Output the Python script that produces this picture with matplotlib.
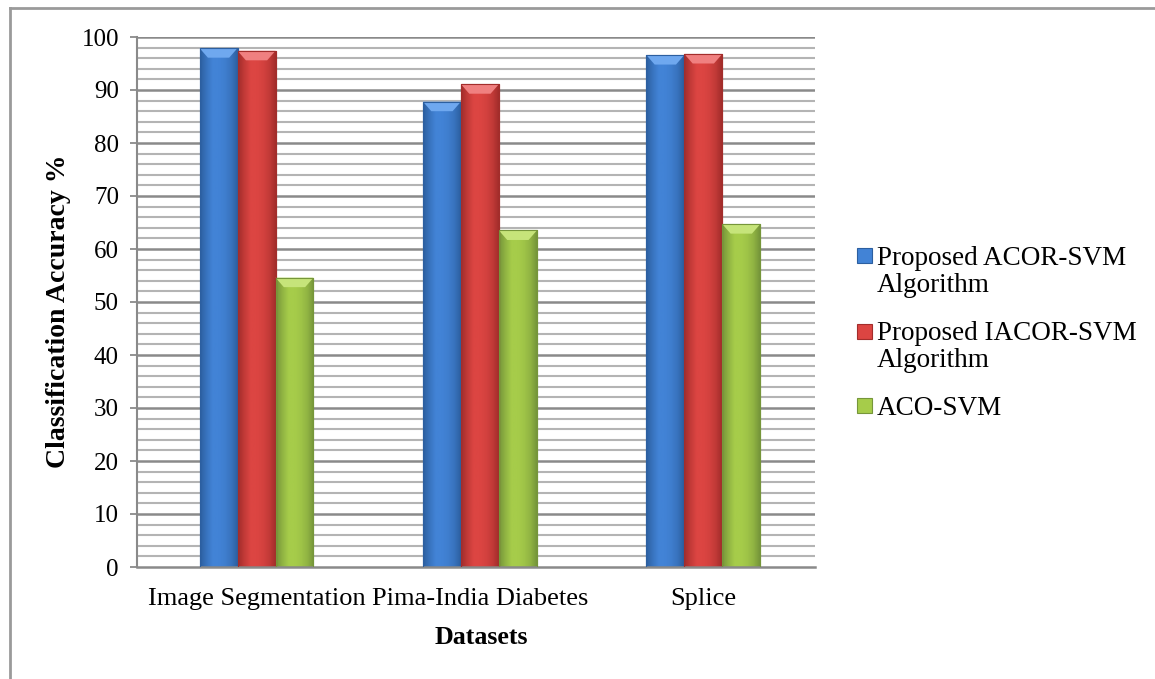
import numpy as np
import matplotlib
matplotlib.use("Agg")
import matplotlib.pyplot as plt
from matplotlib.patches import Rectangle, Polygon
from matplotlib.lines import Line2D
from matplotlib.colors import LinearSegmentedColormap

# Data
datasets = ["Image Segmentation", "Pima-India Diabetes", "Splice"]
series_names = ["Proposed ACOR-SVM\nAlgorithm", "Proposed IACOR-SVM\nAlgorithm", "ACO-SVM"]
acor_svm = [97.9, 87.8, 96.6]
iacor_svm = [97.4, 91.1, 96.8]
aco_svm = [54.6, 63.5, 64.7]
y_ticks = list(range(0, 101, 10))

# Bar shading: (dark edge, light body, top bevel)
palettes = [
    ("#2c5fa0", "#4283d6", "#6fa8ef"),
    ("#a32d2b", "#dc4542", "#f08080"),
    ("#76963a", "#a6cc4a", "#c6e47a"),
]

W, H, DPI = 1155, 679, 100
plt.rcParams["font.family"] = ["Liberation Serif", "DejaVu Serif"]

fig = plt.figure(figsize=(W / DPI, H / DPI), dpi=DPI)
fig.patch.set_facecolor("white")

def fx(px):
    return px / W

def fy(py):
    return 1 - py / H

ax = fig.add_axes([fx(137), fy(567), fx(815) - fx(137), fy(37) - fy(567)])
XMIN, XMAX = -0.535, 2.5
ax.set_xlim(XMIN, XMAX)
ax.set_ylim(0, 100)

# Gridlines: major every 10, minor every 2
for v in np.arange(2, 101, 2):
    major = (v % 10 == 0)
    ax.axhline(v, color="#8a8a8a" if major else "#b4b4b4",
               lw=1.8 if major else 1.5, zorder=0)

for s in ["top", "right"]:
    ax.spines[s].set_visible(False)
ax.spines["left"].set_color("#8a8a8a")
ax.spines["left"].set_linewidth(1.5)
ax.spines["bottom"].set_color("#8a8a8a")
ax.spines["bottom"].set_linewidth(1.8)

ax.set_yticks(y_ticks)
ax.tick_params(axis="y", length=5, width=1.3, color="#8a8a8a", pad=8, labelsize=18)
ax.set_xticks(range(len(datasets)))
ax.set_xticklabels(datasets)
ax.tick_params(axis="x", length=0, pad=15, labelsize=19)

# Axis titles
fig.text(fx(481), fy(644), "Datasets", fontsize=18.6, fontweight="bold",
         ha="center", va="baseline")
fig.text(fx(59), fy(311), "Classification Accuracy %", fontsize=20,
         fontweight="bold", rotation=90, ha="center", va="center")

bar_w = 0.17
x = np.arange(len(datasets))
all_series = [acor_svm, iacor_svm, aco_svm]

# Horizontal shading profile across a bar
prof = np.array([0.0, 0.55, 1.0, 1.0, 0.85, 0.55, 0.0])
prof_x = np.linspace(0, 1, len(prof))
grad = np.interp(np.linspace(0, 1, 64), prof_x, prof)[None, :]

for i, (vals, (dark, light, bevel)) in enumerate(zip(all_series, palettes)):
    cmap = LinearSegmentedColormap.from_list(f"c{i}", [dark, light])
    bars = ax.bar(x + (i - 1) * bar_w, vals, width=bar_w, color=light,
                  edgecolor=dark, linewidth=0.8, zorder=2)
    for b in bars:
        x0, w, h = b.get_x(), b.get_width(), b.get_height()
        im = ax.imshow(grad, cmap=cmap, aspect="auto", extent=[x0, x0 + w, 0, h],
                       zorder=2.5, interpolation="bilinear")
        im.set_clip_path(b)
        # top bevel
        bh = 1.8
        ins = w * 0.22
        ax.add_patch(Polygon([(x0, h), (x0 + w, h), (x0 + w - ins, h - bh),
                              (x0 + ins, h - bh)], closed=True,
                             facecolor=bevel, edgecolor="none", zorder=3))
        ax.add_patch(Rectangle((x0, 0), w, h, facecolor="none", edgecolor=dark,
                               lw=0.8, zorder=3.2))
ax.set_xlim(XMIN, XMAX)
ax.set_ylim(0, 100)

# Legend
leg_x_box = 857
leg_x_text = 877
leg_rows = [256, 331, 406]
line_gap = 27
for (name, (dark, light, bevel), yc) in zip(series_names, palettes, leg_rows):
    fig.patches.append(Rectangle((fx(leg_x_box), fy(yc + 7.5)), fx(15), 15 / H,
                                 transform=fig.transFigure, facecolor=light,
                                 edgecolor=dark, lw=0.8))
    for k, line in enumerate(name.split("\n")):
        fig.text(fx(leg_x_text), fy(yc + 9 + k * line_gap), line, fontsize=19.5,
                 va="baseline", ha="left")

# Outer frame
fig.lines.append(Line2D([fx(10), 1], [fy(8), fy(8)], transform=fig.transFigure,
                        color="#9a9a9a", lw=2))
fig.lines.append(Line2D([fx(10), fx(10)], [fy(8), 0], transform=fig.transFigure,
                        color="#9a9a9a", lw=2))

fig.savefig("out.png", dpi=DPI, facecolor="white")
